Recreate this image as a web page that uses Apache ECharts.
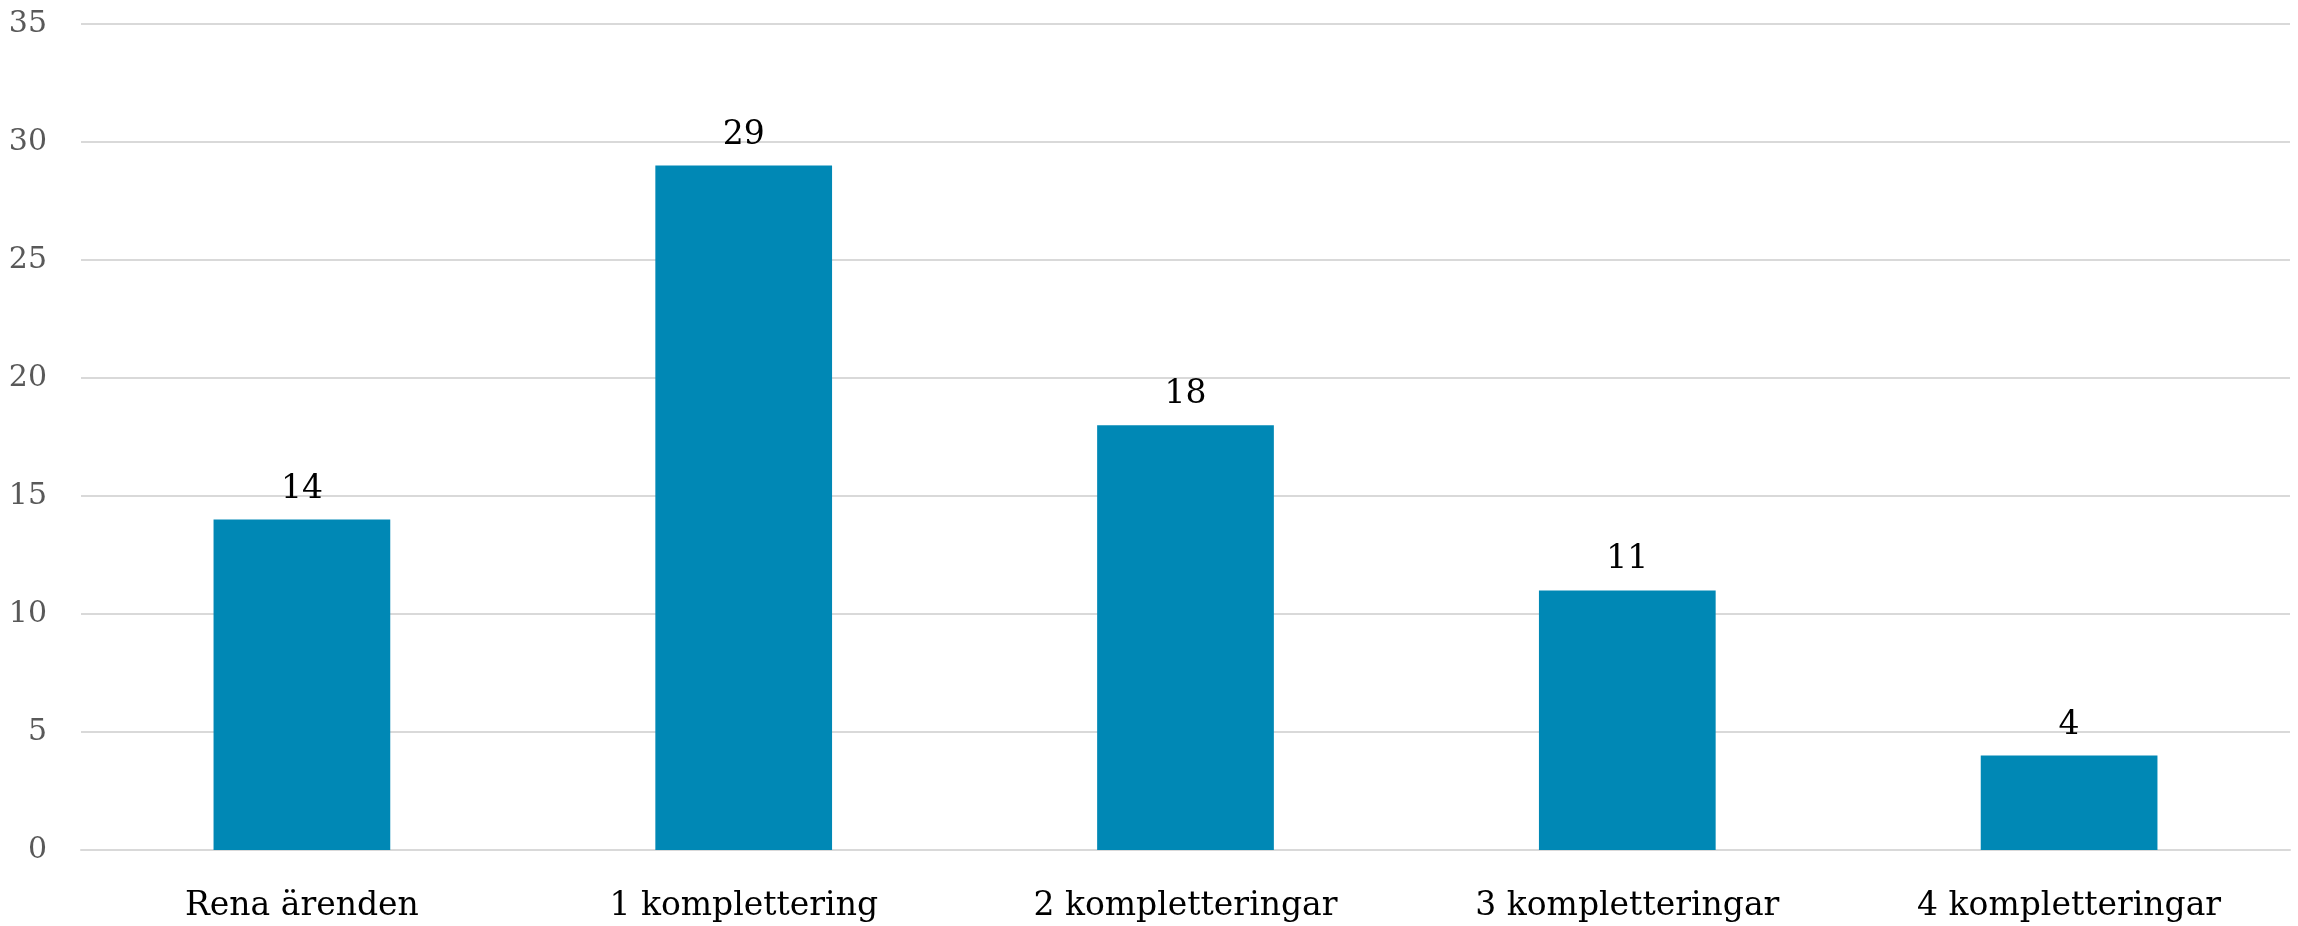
<!DOCTYPE html>
<html>
<head>
<meta charset="utf-8">
<script src="https://cdn.jsdelivr.net/npm/echarts@6/dist/echarts.min.js"></script>
<style>
  html, body { margin: 0; padding: 0; background: #fff; }
  #chart { width: 2298px; height: 926px; }
</style>
</head>
<body>
<div id="chart"></div>
<script>
const categories = ["Rena ärenden", "1 komplettering", "2 kompletteringar", "3 kompletteringar", "4 kompletteringar"];
const counts = [14, 29, 18, 11, 4];
const yMax = 35;
const yStep = 5;

const chart = echarts.init(document.getElementById("chart"));
chart.setOption({
  animation: false,
  grid: { left: 81, right: 8, top: 24, bottom: 76 },
  xAxis: {
    type: "category",
    data: categories,
    axisLine: { lineStyle: { color: "#d9d9d9", width: 2 } },
    axisTick: { show: false },
    axisLabel: {
      color: "#000",
      fontFamily: "DejaVu Serif",
      fontSize: 33,
      margin: 40,
    },
  },
  yAxis: {
    type: "value",
    min: 0,
    max: yMax,
    interval: yStep,
    axisLine: { show: false },
    axisTick: { show: false },
    splitLine: { lineStyle: { color: "#d9d9d9", width: 2 } },
    axisLabel: {
      color: "#595959",
      fontFamily: "DejaVu Serif",
      fontSize: 30,
      margin: 34,
    },
  },
  series: [
    {
      type: "bar",
      data: counts,
      barWidth: "40%",
      itemStyle: { color: "#0088b5" },
      label: {
        show: true,
        position: "top",
        distance: 14,
        color: "#000",
        fontFamily: "DejaVu Serif",
        fontSize: 33,
      },
    },
  ],
});
</script>
</body>
</html>
